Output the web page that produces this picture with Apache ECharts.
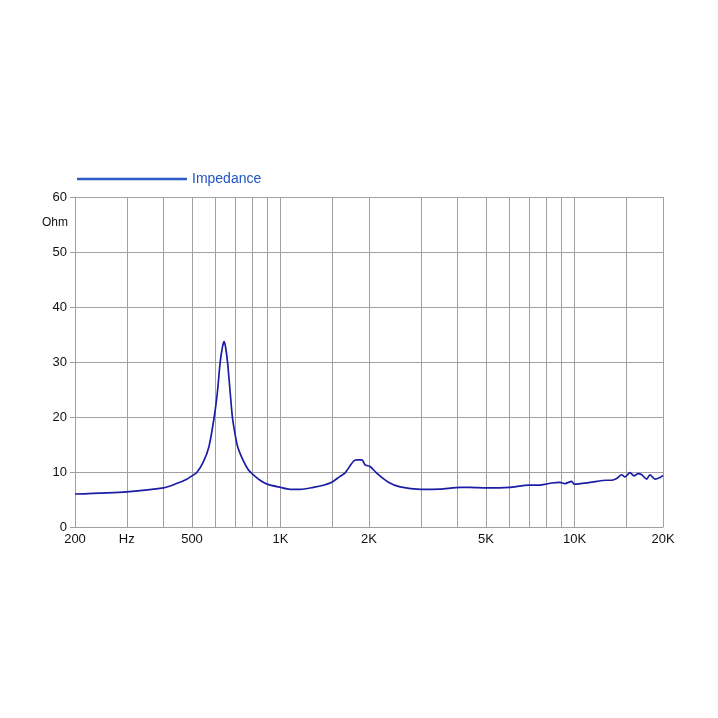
<!DOCTYPE html>
<html><head><meta charset="utf-8">
<script src="https://cdn.jsdelivr.net/npm/echarts@6/dist/echarts.min.js"></script>
<style>html,body{margin:0;padding:0;background:#fff}#c{width:718px;height:718px}</style>
</head><body><div id="c"></div>
<script>
const freqs = [200,300,400,443,480,500,519,546,571,595,610,623,635,643,650,661,673,686,700,715,745,777,800,852,900,1000,1077,1165,1293,1399,1500,1593,1656,1768,1820,1893,1939,2016,2124,2321,2550,3000,3487,4100,4410,5000,6000,7000,7630,8000,8364,8925,9282,9784,9960,11290,12870,13380,13910,14470,14850,15440,15930,16480,16930,17600,18060,18780,19530,20000];
const ohms  = [6.0,6.4,7.1,7.9,8.7,9.3,9.9,11.8,14.6,20.0,24.5,29.8,32.8,33.7,32.8,29.8,25.0,20.0,17.0,14.6,12.2,10.4,9.7,8.5,7.8,7.2,6.85,6.85,7.2,7.6,8.2,9.2,9.8,11.9,12.2,12.2,11.3,11.0,9.8,8.2,7.3,6.85,6.9,7.2,7.2,7.1,7.2,7.6,7.6,7.8,8.0,8.1,7.9,8.3,7.8,8.1,8.5,8.5,8.8,9.5,9.1,9.9,9.3,9.7,9.5,8.7,9.5,8.7,9.0,9.4];
const gridFreqs = [200,300,400,500,600,700,800,900,1000,1500,2000,3000,4000,5000,6000,7000,8000,9000,10000,15000,20000];
const labelFreqs = [200,300,500,1000,2000,5000,10000,20000];
const labelTexts = ['200','Hz','500','1K','2K','5K','10K','20K'];

const chart = echarts.init(document.getElementById('c'), null, {renderer:'canvas'});
const font = 'Liberation Sans, Arial, sans-serif';
chart.setOption({
  animation:false,
  backgroundColor:'#fff',
  grid:{left:75,right:55,top:197,bottom:191,containLabel:false},
  legend:{
    left:77, top:172, padding:0, itemWidth:110, itemHeight:2.5, icon:'rect',
    data:[{name:'Impedance', itemStyle:{color:'#2d5cc4'}}],
    textStyle:{color:'#1f55c4', fontFamily:font, fontSize:14}
  },
  xAxis:{
    type:'log', logBase:10, min:200, max:20000,
    axisLine:{show:true, lineStyle:{color:'#a0a0a0'}},
    axisTick:{show:false, customValues:gridFreqs},
    splitLine:{show:true, lineStyle:{color:'#a0a0a0', width:1}},
    minorTick:{show:false}, minorSplitLine:{show:false},
    axisLabel:{
      customValues:labelFreqs, color:'#111', fontFamily:font, fontSize:13, margin:6,
      formatter:function(v){ const i = labelFreqs.findIndex(f=>Math.abs(f-v)<1e-6*f); return i>=0?labelTexts[i]:''; }
    }
  },
  yAxis:{
    type:'value', min:0, max:60, interval:10,
    axisLine:{show:true, lineStyle:{color:'#a0a0a0'}},
    axisTick:{show:true, length:5, lineStyle:{color:'#a0a0a0'}},
    splitLine:{show:true, lineStyle:{color:'#a0a0a0', width:1}},
    axisLabel:{color:'#111', fontFamily:font, fontSize:13, margin:8}
  },
  graphic:[{type:'text', left:42, top:217, style:{text:'Ohm', fill:'#111', font:'12px '+font}}],
  series:[{
    name:'Impedance', type:'line', showSymbol:false, symbol:'none', smooth:0.25,
    data:freqs.map((f,i)=>[f,ohms[i]]),
    lineStyle:{color:'#1c1ca6', width:1.7},
    itemStyle:{color:'#1c1ca6'}
  }]
});
</script></body></html>
